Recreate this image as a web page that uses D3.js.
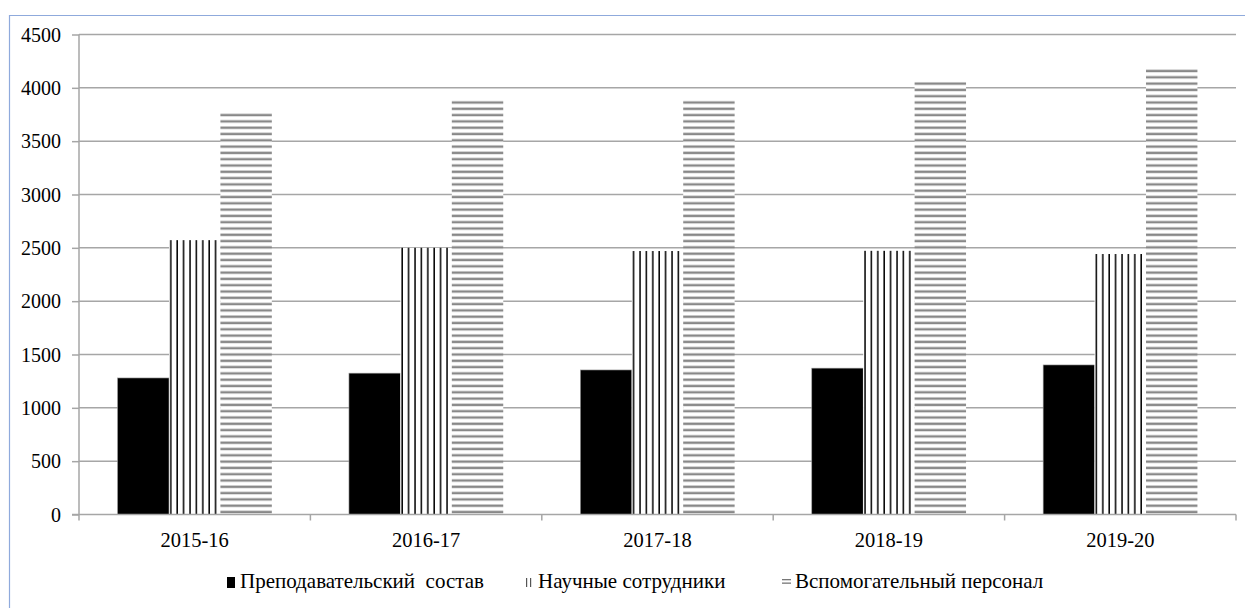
<!DOCTYPE html>
<html>
<head>
<meta charset="utf-8">
<script src="https://cdn.jsdelivr.net/npm/d3@7"></script>
<style>
  html, body { margin: 0; padding: 0; background: #fff; }
  svg { display: block; }
</style>
</head>
<body>
<svg id="chart" width="1245" height="608"></svg>
<script>
// ---- data ----
const categories = ["2015-16", "2016-17", "2017-18", "2018-19", "2019-20"];
const seriesNames = ["Преподавательский  состав", "Научные сотрудники", "Вспомогательный персонал"];
const teaching = [1280, 1325, 1355, 1372, 1402];
const research = [2572, 2500, 2470, 2472, 2442];
const support = [3772, 3898, 3898, 4060, 4193];
const yTicks = [0, 500, 1000, 1500, 2000, 2500, 3000, 3500, 4000, 4500];

const seriesValues = [teaching, research, support];
const fills = ["#000", "url(#vlines)", "url(#hlines)"];
const FONT = "'Liberation Serif', 'Times New Roman', Tinos, serif";

const svg = d3.select("#chart");
const W = 1245, H = 608;
const plot = { left: 79, right: 1236, top: 34.5, bottom: 514.5 };

// patterns
const defs = svg.append("defs");
const pv = defs.append("pattern").attr("id", "vlines").attr("patternUnits", "userSpaceOnUse")
  .attr("width", 6.4).attr("height", 10).attr("x", 1);
pv.append("rect").attr("width", 6.4).attr("height", 10).attr("fill", "#fff");
pv.append("rect").attr("x", 0.3).attr("width", 1.5).attr("height", 10).attr("fill", "#000");

const ph = defs.append("pattern").attr("id", "hlines").attr("patternUnits", "userSpaceOnUse")
  .attr("width", 10).attr("height", 6.3);
ph.append("rect").attr("width", 10).attr("height", 6.3).attr("fill", "#fff");
ph.append("rect").attr("y", 0.5).attr("width", 10).attr("height", 2.4).attr("fill", "#888");

// frame
svg.append("line").attr("x1", 9.5).attr("x2", 9.5).attr("y1", 15).attr("y2", H)
  .attr("stroke", "#8faadc").attr("stroke-width", 1.2);
svg.append("line").attr("x1", 9).attr("x2", W).attr("y1", 15.5).attr("y2", 15.5)
  .attr("stroke", "#8faadc").attr("stroke-width", 1.2);

// scales
const x0 = d3.scaleBand().domain(categories).range([plot.left, plot.right])
  .paddingInner(1 / 3).paddingOuter(1 / 6);
const x1 = d3.scaleBand().domain(d3.range(seriesNames.length)).range([0, x0.bandwidth()]).padding(0);
const y = d3.scaleLinear().domain([0, 4500]).range([plot.bottom, plot.top]);

const gridColor = "#a6a6a6";

// gridlines
svg.append("g").selectAll("line").data(yTicks.filter(d => d > 0)).join("line")
  .attr("x1", plot.left).attr("x2", plot.right)
  .attr("y1", d => y(d)).attr("y2", d => y(d))
  .attr("stroke", gridColor).attr("stroke-width", 1.5);

// bars
const groups = svg.append("g").selectAll("g").data(categories).join("g")
  .attr("transform", d => `translate(${x0(d)},0)`);
groups.selectAll("rect").data((c, i) => seriesValues.map((s, k) => ({ k, v: s[i] }))).join("rect")
  .attr("x", d => x1(d.k))
  .attr("width", x1.bandwidth())
  .attr("y", d => y(d.v))
  .attr("height", d => y(0) - y(d.v))
  .attr("fill", d => fills[d.k])
  .attr("stroke", d => d.k === 0 ? "#999" : "none")
  .attr("stroke-width", 0.6);

// y axis
const yAxis = d3.axisLeft(y).tickValues(yTicks).tickSize(7).tickPadding(11).tickFormat(d3.format("d"));
const gy = svg.append("g").attr("transform", `translate(${plot.left},0)`).call(yAxis)
  .attr("font-family", null).attr("font-size", null);
gy.select(".domain").attr("stroke", gridColor).attr("stroke-width", 1.5).attr("d", `M0,${plot.top}V${plot.bottom}`);
gy.selectAll(".tick line").attr("stroke", gridColor).attr("stroke-width", 1.5);
gy.selectAll(".tick text").style("font-family", FONT).style("font-size", "20px").attr("fill", "#000").attr("dy", "0.34em");

// x axis line
svg.append("line").attr("x1", plot.left - 7).attr("x2", plot.right)
  .attr("y1", plot.bottom).attr("y2", plot.bottom)
  .attr("stroke", gridColor).attr("stroke-width", 1.5);
// category boundary ticks
const bounds = categories.map(c => x0(c) - x0.step() * x0.paddingOuter()).concat([plot.right]);
svg.append("g").selectAll("line").data(bounds).join("line")
  .attr("x1", d => d).attr("x2", d => d)
  .attr("y1", plot.bottom).attr("y2", plot.bottom + 6)
  .attr("stroke", gridColor).attr("stroke-width", 1.5);
// category labels
svg.append("g").selectAll("text").data(categories).join("text")
  .attr("x", d => x0(d) + x0.bandwidth() / 2)
  .attr("y", 547)
  .attr("text-anchor", "middle")
  .style("font-family", FONT).style("font-size", "20.5px")
  .text(d => d);

// legend
const legendX = [227, 525, 782];
const leg = svg.append("g");
seriesNames.forEach((name, k) => {
  const mx = legendX[k];
  if (k === 0) {
    leg.append("rect").attr("x", mx).attr("y", 577).attr("width", 8).attr("height", 11).attr("fill", "#000");
  } else if (k === 1) {
    [1, 5].forEach(dx => leg.append("rect").attr("x", mx + dx).attr("y", 578).attr("width", 1.2).attr("height", 9).attr("fill", "#555"));
  } else {
    [0, 3.5].forEach(dy => leg.append("rect").attr("x", mx).attr("y", 579 + dy).attr("width", 9).attr("height", 1.3).attr("fill", "#777"));
  }
  leg.append("text").attr("x", mx + (k === 0 ? 13 : 13)).attr("y", 588)
    .style("font-family", FONT).style("font-size", "21px").style("white-space", "pre").text(name);
});
</script>
</body>
</html>
